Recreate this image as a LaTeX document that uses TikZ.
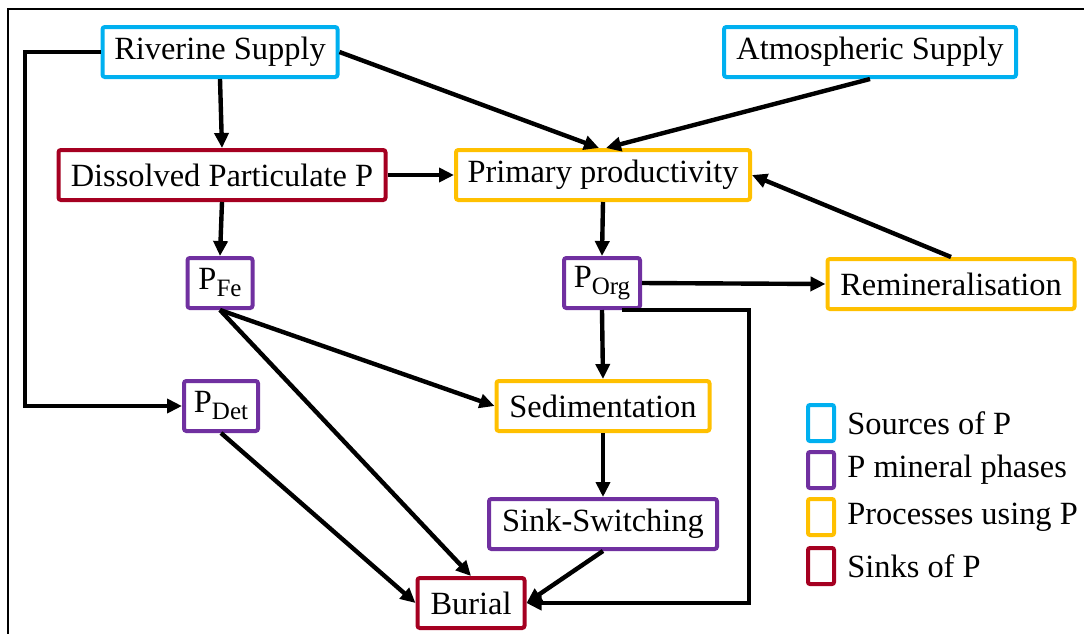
\documentclass[tikz,border=0pt]{standalone}
\usepackage{fontspec}
\setmainfont{Liberation Serif}
\usetikzlibrary{arrows.meta,positioning}
\definecolor{srcStroke}{HTML}{00B0F0}
\definecolor{minStroke}{HTML}{7030A0}
\definecolor{procStroke}{HTML}{FFC000}
\definecolor{sinkStroke}{HTML}{A50021}
\newcommand{\phaseSub}[1]{\raisebox{-3.5pt}{\fontsize{12.5}{13}\selectfont #1}}
\begin{document}
\begin{tikzpicture}[
    x=0.5pt, y=-0.5pt,
    font=\fontsize{16.2}{19}\selectfont,
    boxNode/.style={
        rectangle, rounded corners=1.2pt,
        line width=2pt, fill=white,
        minimum height=25pt, inner xsep=2pt, inner ysep=0pt,
        align=center
    },
    srcNode/.style={boxNode, draw=srcStroke},
    minNode/.style={boxNode, draw=minStroke},
    procNode/.style={boxNode, draw=procStroke},
    sinkNode/.style={boxNode, draw=sinkStroke},
    keyBox/.style={
        rectangle, rounded corners=1pt, line width=2pt,
        minimum width=13pt, minimum height=18pt, inner sep=0pt
    },
    keyText/.style={anchor=west, inner sep=0pt},
    flow/.style={-{Triangle[length=7.5pt,width=7pt]}, line width=2.2pt, draw=black},
    frame/.style={line width=1pt, draw=black}
]
\useasboundingbox (0,0) rectangle (1084,634);

% Layout plan: sources on top, phases in the middle, Burial at the bottom, key on the right.
\coordinate (FrameCorner) at (8,9);
\coordinate (FrameRight) at (1084,9);
\coordinate (FrameBottom) at (8,634);
\draw[frame] (FrameRight) -- (FrameCorner) -- (FrameBottom);

\node[srcNode, minimum width=117.5pt] (Riverine) at (220,52) {Riverine Supply};
\node[srcNode, minimum width=146pt] (Atmospheric) at (870,52) {Atmospheric Supply};

\node[sinkNode, minimum width=163.5pt] (Dissolved) at (222,175) {Dissolved Particulate P};
\node[procNode, minimum width=147pt] (Primary) at (603,175) {Primary productivity};

\node[minNode, minimum width=32.5pt] (PFe) at (220,283) {P\phaseSub{Fe}};
\node[minNode, minimum width=38pt] (POrg) at (602,283) {P\phaseSub{Org}};
\node[procNode, minimum width=123.5pt] (Remin) at (951,284) {Remineralisation};

\node[minNode, minimum width=37pt] (PDet) at (221,406) {P\phaseSub{Det}};
\node[procNode, minimum width=106.5pt] (Sedim) at (603,406) {Sedimentation};
\node[minNode, minimum width=114pt] (SinkSwitch) at (603,524) {Sink-Switching};
\node[sinkNode, minimum width=53.5pt] (Burial) at (471,603) {Burial};

% key
\node[keyBox, draw=srcStroke] (KeySrc) at (821,423) {};
\node[keyBox, draw=minStroke] (KeyMin) at (821,470) {};
\node[keyBox, draw=procStroke] (KeyProc) at (821,517) {};
\node[keyBox, draw=sinkStroke] (KeySink) at (821,566) {};
\node[keyText, right=5.5pt of KeySrc] (KeySrcText) {Sources of P};
\node[keyText, right=5.5pt of KeyMin] (KeyMinText) {P mineral phases};
\node[keyText, right=5.5pt of KeyProc] (KeyProcText) {Processes using P};
\node[keyText, right=5.5pt of KeySink] (KeySinkText) {Sinks of P};

\coordinate (LeftBus) at (25,52);
\coordinate (LoopTurn) at (749,310);

\draw[flow] (Riverine.west) -- (LeftBus) |- (PDet.west);
\draw[flow] (Riverine.south) -- (Dissolved.north);
\draw[flow] (Riverine.east) -- ([xshift=-2pt]Primary.north);
\draw[flow] (Atmospheric.south) -- ([xshift=1.5pt]Primary.north);
\draw[flow] (Dissolved.east) -- (Primary.west);
\draw[flow] (Dissolved.south) -- (PFe.north);
\draw[flow] (Primary.south) -- (POrg.north);
\draw[flow] (Remin.north) -- (Primary.east);
\draw[flow] (POrg.east) -- (Remin.west);
\draw[flow] (POrg.south) -- (Sedim.north);
\draw[flow] (PFe.south) -- (Sedim.west);
\draw[flow] (PFe.south) -- (Burial.north);
\draw[flow] (PDet.south) -- (Burial.west);
\draw[flow] (Sedim.south) -- (SinkSwitch.north);
\draw[flow] (SinkSwitch.south) -- (Burial.east);
\draw[flow] ([xshift=10pt]POrg.south) -- (LoopTurn) |- (Burial.east);

\end{tikzpicture}
\end{document}
